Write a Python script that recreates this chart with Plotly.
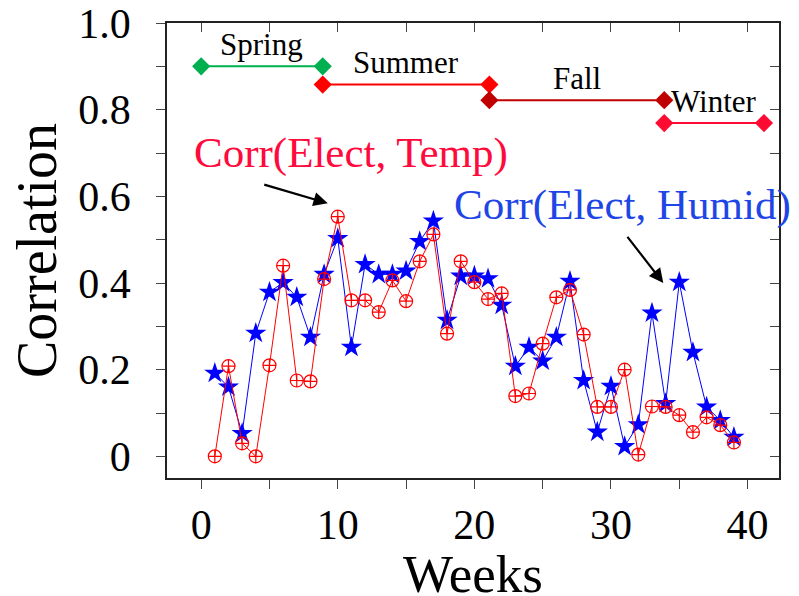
import plotly.graph_objects as go

weeks = list(range(1, 40))
corr_temp = [0.0, 0.208, 0.03, 0.0, 0.21, 0.44, 0.175, 0.173, 0.409, 0.553,
             0.36, 0.36, 0.333, 0.406, 0.358, 0.45, 0.512, 0.283, 0.45, 0.402,
             0.363, 0.376, 0.139, 0.145, 0.26, 0.367, 0.384, 0.281, 0.114, 0.114,
             0.2, 0.004, 0.115, 0.114, 0.095, 0.056, 0.09, 0.072, 0.032]
corr_humid = [0.192, 0.16, 0.053, 0.284, 0.379, 0.401, 0.367, 0.275, 0.42, 0.503,
              0.252, 0.443, 0.42, 0.42, 0.428, 0.496, 0.543, 0.314, 0.416, 0.416,
              0.41, 0.349, 0.208, 0.252, 0.22, 0.275, 0.404, 0.175, 0.056, 0.162,
              0.023, 0.073, 0.331, 0.122, 0.402, 0.24, 0.114, 0.083, 0.044]

season_names = ["Spring", "Summer", "Fall", "Winter"]
season_start = [0.0, 8.9, 21.1, 33.9]
season_end = [8.9, 21.1, 33.9, 41.2]
season_level = [0.9, 0.858, 0.822, 0.769]

x_tick_vals = [0, 5, 10, 15, 20, 25, 30, 35, 40]
x_tick_text = ["0", "", "10", "", "20", "", "30", "", "40"]
y_tick_vals = [0, 0.1, 0.2, 0.3, 0.4, 0.5, 0.6, 0.7, 0.8, 0.9, 1.0]
y_tick_text = ["0", "", "0.2", "", "0.4", "", "0.6", "", "0.8", "", "1.0"]

season_colors = ["#00b050", "#ff0000", "#c00000", "#ff0a32"]
FONT = "Liberation Serif"

fig = go.Figure()

for name, s, e, lv, c in zip(season_names, season_start, season_end, season_level, season_colors):
    fig.add_trace(go.Scatter(
        x=[s, e], y=[lv, lv], mode="lines+markers",
        line=dict(color=c, width=2),
        marker=dict(symbol="diamond", size=14, color=c),
        showlegend=False, hoverinfo="skip"))
    fig.add_annotation(x=(s + e) / 2, y=lv, text=name, showarrow=False,
                       yshift=22, font=dict(family=FONT, size=31, color="black"))

fig.add_trace(go.Scatter(
    x=weeks, y=corr_humid, mode="lines+markers", name="Corr(Elect, Humid)",
    line=dict(color="#0000ff", width=1),
    marker=dict(symbol="star", size=16, color="#0000ff", line=dict(width=0)),
    showlegend=False))
fig.add_trace(go.Scatter(
    x=weeks, y=corr_temp, mode="lines+markers", name="Corr(Elect, Temp)",
    line=dict(color="#ff0000", width=1),
    marker=dict(symbol="circle-cross-open", size=13, color="#ff0000", line=dict(width=1.2)),
    showlegend=False))

# invisible trace for the mirrored (top/right) axes with inward ticks
fig.add_trace(go.Scatter(x=[0], y=[0], xaxis="x2", yaxis="y2", mode="markers",
                         marker=dict(opacity=0), showlegend=False, hoverinfo="skip"))

fig.add_annotation(x=10.96, y=0.70, text="Corr(Elect, Temp)", showarrow=False,
                   font=dict(family=FONT, size=43, color="#ff0a3c"))
fig.add_annotation(x=30.83, y=0.58, text="Corr(Elect, Humid)", showarrow=False,
                   font=dict(family=FONT, size=43, color="#1e46e6"))

fig.add_annotation(x=9.27, y=0.584, ax=4.51, ay=0.628, axref="x", ayref="y",
                   xref="x", yref="y", text="", showarrow=True,
                   arrowhead=2, arrowsize=1.3, arrowwidth=2.2, arrowcolor="black")
fig.add_annotation(x=33.83, y=0.40, ax=31.12, ay=0.51, axref="x", ayref="y",
                   xref="x", yref="y", text="", showarrow=True,
                   arrowhead=2, arrowsize=1.3, arrowwidth=2.2, arrowcolor="black")

# x-axis title placed as an annotation so it can sit close to the bottom edge
fig.add_annotation(x=0.5, y=0, xref="paper", yref="paper", text="Weeks",
                   showarrow=False, xanchor="center", yanchor="top", yshift=-65,
                   font=dict(family=FONT, size=53, color="black"))

axis_line = dict(showline=True, linecolor="#222222", linewidth=1.5, showgrid=False,
                 zeroline=False, automargin=False)

fig.update_layout(
    width=799, height=596,
    margin=dict(l=167, r=20, t=23, b=118, autoexpand=False),
    paper_bgcolor="white", plot_bgcolor="white",
    font=dict(family=FONT, color="black"),
    xaxis=dict(range=[-2.5, 42.3], tickmode="array", tickvals=x_tick_vals, ticktext=x_tick_text,
               ticks="outside", ticklen=9, tickcolor="#444444", tickwidth=1.2,
               tickfont=dict(family=FONT, size=42), mirror=True,
               **axis_line),
    yaxis=dict(range=[-0.05, 1.0], tickmode="array", tickvals=y_tick_vals, ticktext=y_tick_text,
               ticks="outside", ticklen=9, tickcolor="#444444", tickwidth=1.2,
               tickfont=dict(family=FONT, size=42), mirror=True, ticklabelstandoff=17,
               title=dict(text="Correlation", font=dict(family=FONT, size=56), standoff=4),
               **axis_line),
    xaxis2=dict(overlaying="x", side="top", matches="x", range=[-2.5, 42.3],
                tickmode="array", tickvals=x_tick_vals, ticks="inside", ticklen=9,
                tickcolor="#444444", tickwidth=1.2, showticklabels=False, automargin=False,
                showgrid=False, zeroline=False, showline=False),
    yaxis2=dict(overlaying="y", side="right", matches="y", range=[-0.05, 1.0],
                tickmode="array", tickvals=y_tick_vals, ticks="inside", ticklen=9,
                tickcolor="#444444", tickwidth=1.2, showticklabels=False, automargin=False,
                showgrid=False, zeroline=False, showline=False),
)

fig.write_html("out.html")
